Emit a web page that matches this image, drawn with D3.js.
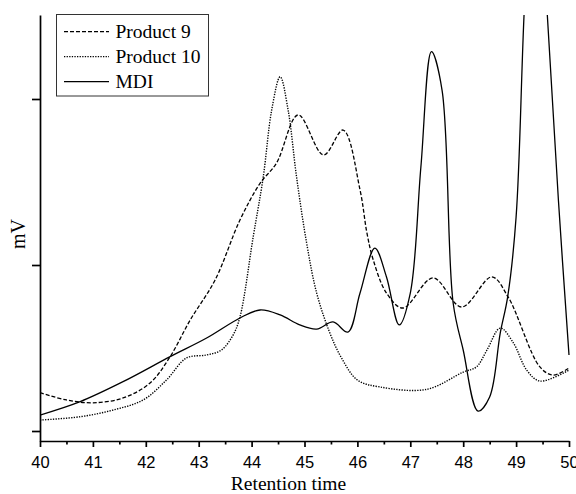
<!DOCTYPE html>
<html>
<head>
<meta charset="utf-8">
<script src="https://cdn.jsdelivr.net/npm/d3@7"></script>
<style>
  body { margin: 0; background: #fff; }
</style>
</head>
<body>
<svg id="chart" width="576" height="494"></svg>
<script>
// retention time (min) / signal (mV, arbitrary units)
const p9Time = [40, 40.5, 41, 41.57, 42.08, 42.46, 42.84, 43.31, 43.78, 44.16, 44.47, 44.88, 45.36, 45.73,
    46.05, 46.18, 46.3, 46.55, 46.86, 47.43, 47.97, 48.54, 48.85, 49.45, 49.7, 50];
const p9Value = [23.1, 18.7, 17.0, 19.9, 28.9, 44.8, 66.9, 91.0, 127.1, 149.2, 161.4, 190.4, 166.3, 181.3,
    145.2, 119.3, 103.0, 83.1, 74.1, 92.2, 74.7, 92.8, 80.7, 38.6, 33.7, 38.0];

const p10Time = [40, 40.76, 41.39, 41.95, 42.39, 42.77, 43.15, 43.43, 43.65, 43.78, 44.03, 44.22, 44.38, 44.54,
    44.69, 44.85, 45.04, 45.23, 45.48, 45.7, 46, 46.43, 47.31, 48, 48.25, 48.45, 48.7, 48.95, 49.2, 49.45, 50];
const p10Value = [6.6, 8.6, 12.7, 18.7, 30.7, 44.0, 45.8, 48.8, 57.8, 68.7, 116.9, 153.0, 193.4, 213.4,
    193.4, 153.0, 113.3, 83.1, 59.0, 44.0, 30.7, 26.5, 25.1, 35.5, 38.6, 48.8, 62.0, 53.0, 36.7, 30.1, 36.7];

const mdiTime = [40, 40.76, 41.57, 42.46, 43.15, 43.78, 44.16, 44.54, 44.91, 45.23, 45.54, 45.82, 46.05, 46.33,
    46.55, 46.79, 47, 47.2, 47.4, 47.6, 47.81, 48, 48.28, 48.5, 48.7, 48.84, 49, 49.15, 49.38, 49.59, 49.8, 50];
const mdiValue = [9.6, 17.7, 29.7, 44.8, 56.0, 68.1, 72.9, 69.9, 63.9, 61.4, 65.7, 59.6, 83.1, 110.2,
    92.8, 63.9, 83.1, 159.0, 228.5, 205.4, 77.1, 48.8, 12.0, 20.5, 59.0, 80.7, 128.9, 250.6, 400, 250.6, 139, 45.8];

const seriesNames = ['Product 9', 'Product 10', 'MDI'];
const seriesDash = ['4,2', '1.3,1.3', null];
const xMajor = d3.range(40, 50.01, 1);
const xMinor = d3.range(40.5, 50, 1);
const yTicks = [0, 100, 200];

const series = [
    p9Time.map((t, i) => ({ t, v: p9Value[i] })),
    p10Time.map((t, i) => ({ t, v: p10Value[i] })),
    mdiTime.map((t, i) => ({ t, v: mdiValue[i] }))
];

const svg = d3.select('#chart');
const margin = { top: 15, right: 7, bottom: 53, left: 40 };
const width = 576 - margin.left - margin.right;
const height = 494 - margin.top - margin.bottom;
const serif = '"Liberation Serif", "Times New Roman", serif';

const x = d3.scaleLinear().domain([40, 50]).range([0, width]);
const y = d3.scaleLinear().domain([-6.02, 250.6]).range([height, 0]);

const g = svg.append('g')
    .attr('transform', `translate(${margin.left},${margin.top})`);

g.append('clipPath').attr('id', 'plot-clip')
    .append('rect')
    .attr('width', width + 2).attr('height', height);

const line = d3.line()
    .x(d => x(d.t))
    .y(d => y(d.v))
    .curve(d3.curveCatmullRom.alpha(0.5));

g.append('g')
    .attr('clip-path', 'url(#plot-clip)')
    .selectAll('path')
    .data(series)
    .join('path')
    .attr('fill', 'none')
    .attr('stroke', '#000')
    .attr('stroke-width', (d, i) => i === 1 ? 1.4 : 1.3)
    .attr('stroke-dasharray', (d, i) => seriesDash[i])
    .attr('d', line);

// x axis
const xAxis = g.append('g')
    .attr('transform', `translate(0,${height})`)
    .call(d3.axisBottom(x).tickValues(xMajor).tickSize(6).tickSizeOuter(0).tickFormat(d3.format('d')));
g.append('g')
    .attr('transform', `translate(0,${height})`)
    .call(d3.axisBottom(x).tickValues(xMinor).tickSize(3.5).tickSizeOuter(0).tickFormat(''))
    .call(a => a.select('.domain').remove());
xAxis.selectAll('text')
    .attr('y', 27)
    .attr('dy', null)
    .attr('font-family', '"Liberation Sans", Arial, sans-serif')
    .attr('font-size', 16.5)
    .attr('fill', '#000');

// y axis
g.append('g')
    .call(d3.axisLeft(y).tickValues(yTicks).tickSize(8).tickSizeOuter(0).tickFormat(''));

g.selectAll('.domain, .tick line')
    .attr('stroke', '#000')
    .attr('stroke-width', 1.7);

// axis titles
svg.append('text')
    .attr('x', 288.5)
    .attr('y', 490)
    .attr('text-anchor', 'middle')
    .attr('font-family', serif)
    .attr('font-size', 19.5)
    .text('Retention time');

svg.append('text')
    .attr('transform', 'translate(25,234) rotate(-90)')
    .attr('text-anchor', 'middle')
    .attr('font-family', serif)
    .attr('font-size', 20)
    .text('mV');

// legend
const legend = svg.append('g');
legend.append('rect')
    .attr('x', 56.5).attr('y', 14.5)
    .attr('width', 152).attr('height', 81.5)
    .attr('fill', '#fff')
    .attr('stroke', '#333')
    .attr('stroke-width', 1);

const rows = legend.selectAll('g.row')
    .data(seriesNames)
    .join('g')
    .attr('class', 'row')
    .attr('transform', (d, i) => `translate(0,${31.7 + i * 25})`);
rows.append('line')
    .attr('x1', 64).attr('x2', 109)
    .attr('stroke', '#000')
    .attr('stroke-width', 1.2)
    .attr('stroke-dasharray', (d, i) => seriesDash[i]);
rows.append('text')
    .attr('x', 115.5)
    .attr('y', 6.5)
    .attr('font-family', serif)
    .attr('font-size', 19.5)
    .text(d => d);
</script>
</body>
</html>
